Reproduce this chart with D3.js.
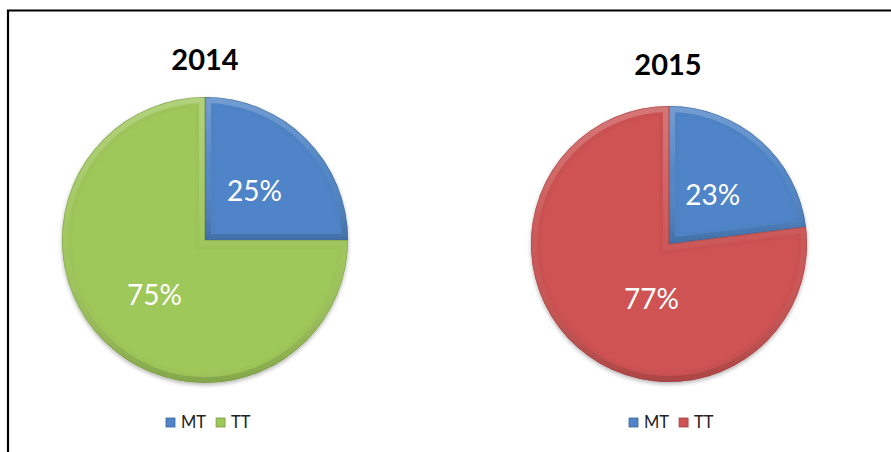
<!DOCTYPE html>
<html>
<head>
<meta charset="utf-8">
<script src="https://cdn.jsdelivr.net/npm/d3@7/dist/d3.min.js"></script>
<style>
  html, body { margin: 0; padding: 0; background: #fff; }
  svg { display: block; }
</style>
</head>
<body>
<svg id="chart" width="891" height="452"></svg>
<script>
// ---- Data ----
const years = ["2014", "2015"];
const categories = ["MT", "TT"];
const values2014 = [25, 75];
const values2015 = [23, 77];
const colors2014 = ["#4f85c8", "#9fc85a"];
const colors2015 = ["#4f85c8", "#cf5353"];

// ---- Layout ----
const layout = [
  { cx: 205, cy: 240, r: 143, titleX: 205, titleY: 70, legendX: 166, legendY: 423,
    labelK: [0.49, 0.52], labelShift: [[0, 0], [2, 1]] },
  { cx: 669, cy: 244, r: 138, titleX: 668, titleY: 75, legendX: 629, legendY: 423,
    labelK: [0.48, 0.5], labelShift: [[0, 0], [28, 2]] }
];
const datasets = [values2014, values2015];
const palettes = [colors2014, colors2015];

const svg = d3.select("#chart");
const defs = svg.append("defs");

// bevel gradient
const bg = defs.append("linearGradient").attr("id", "bevel").attr("x1", 0).attr("y1", 0).attr("x2", 0).attr("y2", 1);
bg.append("stop").attr("offset", "0%").attr("stop-color", "#fff").attr("stop-opacity", 0.22);
bg.append("stop").attr("offset", "50%").attr("stop-color", "#fff").attr("stop-opacity", 0.04);
bg.append("stop").attr("offset", "100%").attr("stop-color", "#000").attr("stop-opacity", 0.15);

// shadow filter
const f = defs.append("filter").attr("id", "shadow").attr("x", "-10%").attr("y", "-10%").attr("width", "120%").attr("height", "125%");
f.append("feGaussianBlur").attr("in", "SourceAlpha").attr("stdDeviation", 2);
f.append("feOffset").attr("dx", 0).attr("dy", 2).attr("result", "ob");
f.append("feComponentTransfer").append("feFuncA").attr("type", "linear").attr("slope", 0.3);
const fm = f.append("feMerge");
fm.append("feMergeNode");
fm.append("feMergeNode").attr("in", "SourceGraphic");

// frame (left and top border)
svg.append("path")
  .attr("d", "M8,452 L8,10.5 L891,10.5")
  .attr("fill", "none").attr("stroke", "#000").attr("stroke-width", 2.2);

const pie = d3.pie().sort(null).value(d => d);

layout.forEach((L, i) => {
  const g = svg.append("g").attr("transform", `translate(${L.cx},${L.cy})`);
  const arc = d3.arc().innerRadius(0).outerRadius(L.r);
  const arcs = pie(datasets[i]);

  const sg = g.append("g").attr("filter", "url(#shadow)");
  arcs.forEach((a, j) => {
    const id = `clip${i}_${j}`;
    defs.append("clipPath").attr("id", id).append("path").attr("d", arc(a)).attr("transform", `translate(${L.cx},${L.cy})`);
    const col = palettes[i][j];
    sg.append("path").attr("d", arc(a)).attr("fill", col);
    // bevel band inside slice
    const band = svg.append("g").attr("clip-path", `url(#${id})`)
      .append("g").attr("transform", `translate(${L.cx},${L.cy})`);
    band.append("path").attr("d", arc(a))
      .attr("fill", "none")
      .attr("stroke", d3.color(col).darker(0.3))
      .attr("stroke-width", 20).attr("stroke-opacity", 0.2)
      .attr("stroke-linejoin", "miter");
    band.append("path").attr("d", arc(a))
      .attr("fill", "none")
      .attr("stroke", "url(#bevel)")
      .attr("stroke-width", 12);
    band.append("path").attr("d", arc(a))
      .attr("fill", "none")
      .attr("stroke", d3.color(col).darker(0.8))
      .attr("stroke-width", 1.4).attr("stroke-opacity", 0.6);
  });

  // labels
  arcs.forEach((a, j) => {
    const la = d3.arc().innerRadius(0).outerRadius(L.r * L.labelK[j] * 2);
    const [x, y] = la.centroid(a);
    g.append("text")
      .attr("x", x + L.labelShift[j][0]).attr("y", y + L.labelShift[j][1])
      .attr("text-anchor", "middle").attr("dominant-baseline", "central")
      .attr("font-family", "Lato, 'Open Sans', sans-serif")
      .attr("font-size", 28).attr("fill", "#fff")
      .text(Math.round(a.data) + "%");
  });

  // title
  svg.append("text")
    .attr("x", L.titleX).attr("y", L.titleY)
    .attr("text-anchor", "middle")
    .attr("font-family", "Lato, 'Open Sans', sans-serif")
    .attr("font-weight", "bold").attr("font-size", 29).attr("fill", "#000")
    .text(years[i]);

  // legend
  let lx = L.legendX;
  categories.forEach((c, j) => {
    const col = palettes[i][j];
    svg.append("rect").attr("x", lx).attr("y", L.legendY - 5).attr("width", 9).attr("height", 9)
      .attr("fill", col).attr("stroke", d3.color(col).darker(0.7)).attr("stroke-width", 0.8);
    const t = svg.append("text").attr("x", lx + 15).attr("y", L.legendY + 5)
      .attr("font-family", "Lato, 'Open Sans', sans-serif")
      .attr("font-size", 16.5).attr("fill", "#222").text(c);
    const w = t.node().getComputedTextLength();
    lx += 15 + w + 10;
  });
});
</script>
</body>
</html>
